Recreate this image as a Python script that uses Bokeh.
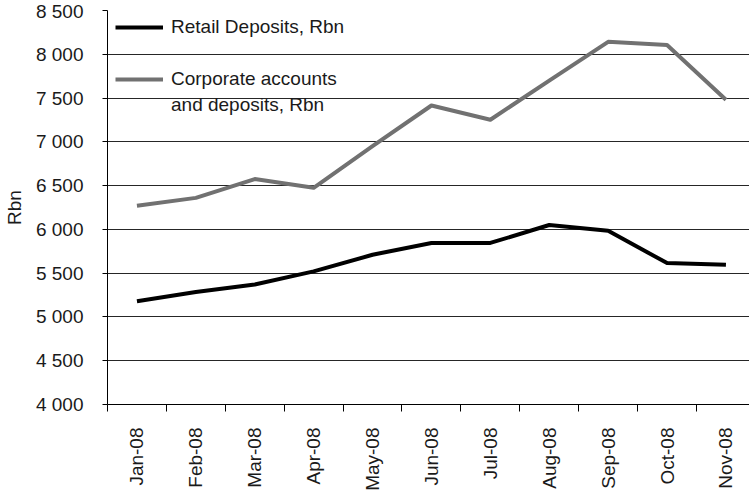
import math
from bokeh.plotting import figure
from bokeh.models import (ColumnDataSource, FixedTicker, Legend, LegendItem, Grid)
from bokeh.embed import file_html
from bokeh.resources import INLINE

# ---- data ----
months = ["Jan-08", "Feb-08", "Mar-08", "Apr-08", "May-08", "Jun-08",
          "Jul-08", "Aug-08", "Sep-08", "Oct-08", "Nov-08"]
retail = [5180, 5285, 5370, 5520, 5710, 5845, 5845, 6050, 5985, 5615, 5595]
corporate = [6270, 6360, 6575, 6475, 6950, 7415, 7252, 7700, 8142, 8105, 7480]
y_ticks = [4000, 4500, 5000, 5500, 6000, 6500, 7000, 7500, 8000, 8500]
y_tick_labels = ["4 000", "4 500", "5 000", "5 500", "6 000", "6 500",
                 "7 000", "7 500", "8 000", "8 500"]
retail_label = "Retail Deposits, Rbn"
corporate_label_1 = "Corporate accounts"
corporate_label_2 = "and deposits, Rbn"
y_title = "Rbn"

FONT = "Liberation Sans"
FS = "19px"
TXT = "#1a1a1a"

centers = [i + 0.5 for i in range(len(months))]
bounds = [float(i) for i in range(len(months) + 1)]

src = ColumnDataSource(dict(x=centers, retail=retail, corporate=corporate))

p = figure(width=749, height=493, output_backend="svg", toolbar_location=None,
           x_range=(0, 10.9), y_range=(y_ticks[0], y_ticks[-1]),
           min_border_left=107, min_border_right=0, min_border_top=10,
           min_border_bottom=88)
p.outline_line_color = None
p.background_fill_color = "white"
p.border_fill_color = "white"

r_ret = p.line("x", "retail", source=src, line_color="black", line_width=4,
               line_join="round")
r_cor = p.line("x", "corporate", source=src, line_color="#717171", line_width=4,
               line_join="round")
r_dummy = p.line(x=[], y=[], line_alpha=0)

# axes
xa = p.xaxis[0]
xa.ticker = FixedTicker(ticks=centers, minor_ticks=bounds)
xa.major_label_overrides = {c: m for c, m in zip(centers, months)}
xa.major_label_orientation = math.pi / 2
xa.major_tick_line_color = None
xa.major_tick_out = 0
xa.major_tick_in = 0
xa.minor_tick_line_color = "black"
xa.minor_tick_out = 7
xa.minor_tick_in = 0
xa.major_label_standoff = 16
xa.axis_line_color = "black"

ya = p.yaxis[0]
ya.ticker = FixedTicker(ticks=y_ticks)
ya.major_label_overrides = {v: s for v, s in zip(y_ticks, y_tick_labels)}
ya.major_tick_out = 5
ya.major_tick_in = 0
ya.minor_tick_line_color = None
ya.major_label_standoff = 19
ya.axis_line_color = "black"
ya.axis_label = y_title
ya.axis_label_standoff = 8

for ax in (xa, ya):
    ax.major_label_text_font = FONT
    ax.major_label_text_font_size = FS
    ax.major_label_text_color = TXT
    ax.axis_label_text_font = FONT
    ax.axis_label_text_font_size = FS
    ax.axis_label_text_font_style = "normal"
    ax.axis_label_text_color = TXT

p.xgrid.grid_line_color = None
p.ygrid.ticker = FixedTicker(ticks=y_ticks[:-1])
p.ygrid.grid_line_color = "#262626"
p.ygrid.grid_line_width = 1
p.add_layout(Grid(dimension=1, ticker=FixedTicker(ticks=y_ticks[-1:]),
                  grid_line_color="#a8a8a8", grid_line_width=1))


def make_legend(items, loc):
    lg = Legend(items=items, location=loc, padding=0, margin=0, spacing=4,
                border_line_color=None, background_fill_alpha=0,
                glyph_width=48, glyph_height=20, label_height=20,
                label_standoff=8, label_text_font=FONT,
                label_text_font_size=FS, label_text_color=TXT)
    return lg


leg1 = make_legend([LegendItem(label=retail_label, renderers=[r_ret])], (8, 366))
leg2 = make_legend([LegendItem(label=corporate_label_1, renderers=[r_cor]),
                    LegendItem(label=corporate_label_2, renderers=[r_dummy])],
                   (8, 288))
p.add_layout(leg1, "center")
p.add_layout(leg2, "center")

open("out.html", "w").write(file_html(p, INLINE))
